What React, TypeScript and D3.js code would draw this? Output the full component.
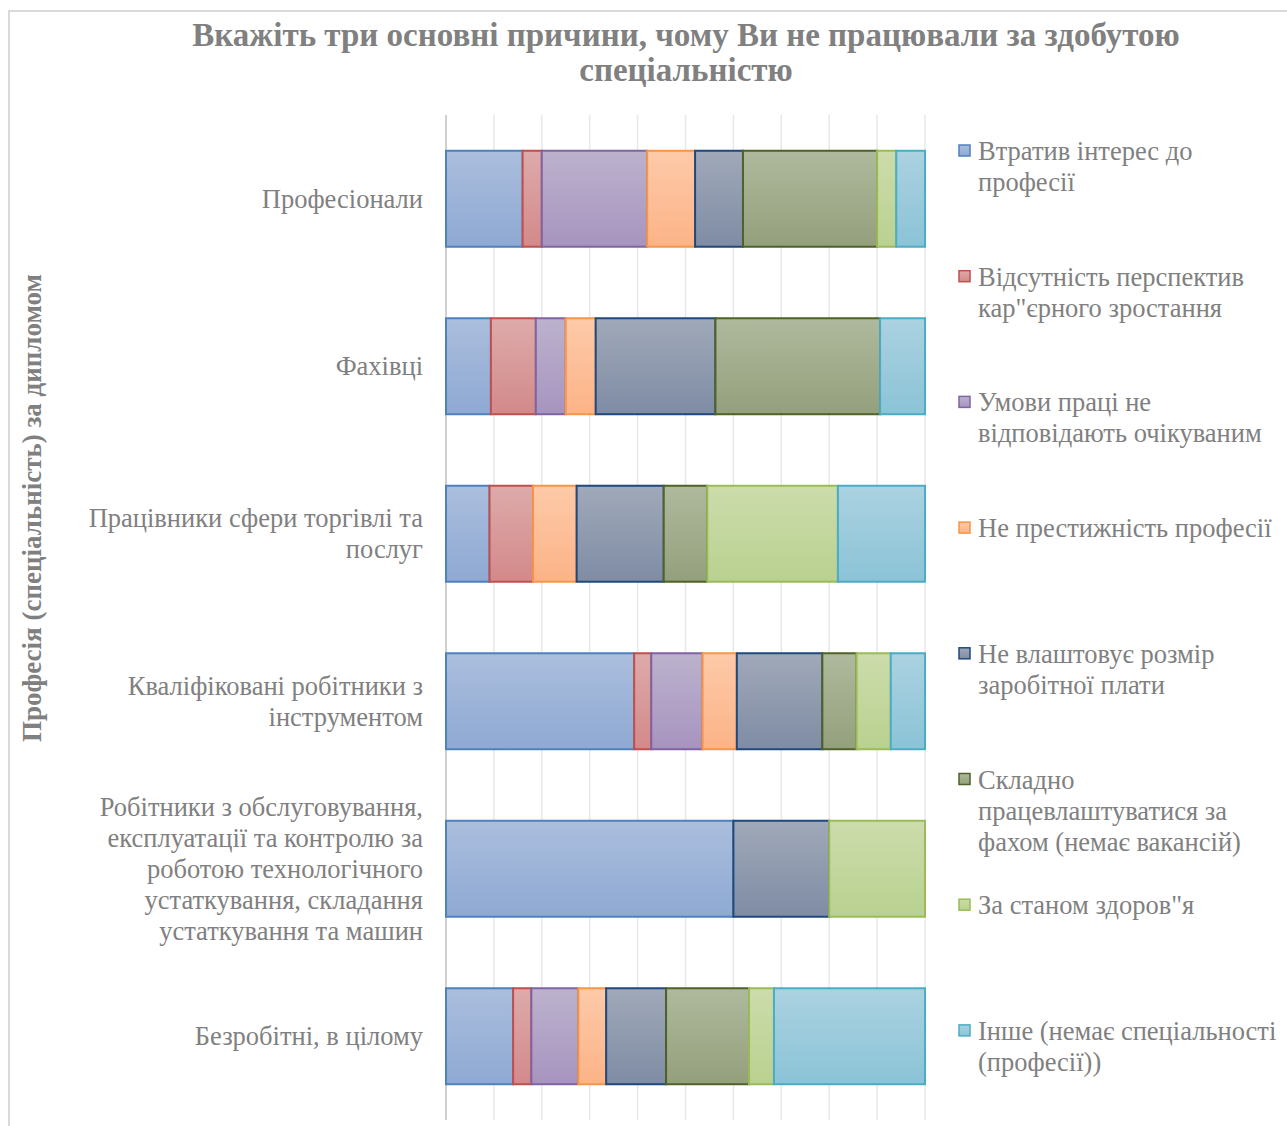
import React from "react";
import * as d3 from "d3";

const categories = [
  "Професіонали",
  "Фахівці",
  "Працівники сфери торгівлі та\nпослуг",
  "Кваліфіковані робітники з\nінструментом",
  "Робітники з обслуговування,\nексплуатації та контролю за\nроботою технологічного\nустаткування, складання\nустаткування та машин",
  "Безробітні, в цілому",
];

const seriesNames = [
  "Втратив інтерес до\nпрофесії",
  "Відсутність перспектив\nкар\"єрного зростання",
  "Умови праці не\nвідповідають очікуваним",
  "Не престижність професії",
  "Не влаштовує розмір\nзаробітної плати",
  "Складно\nпрацевлаштуватися за\nфахом (немає вакансій)",
  "За станом здоров\"я",
  "Інше (немає спеціальності\n(професії))",
];

const lostInterest = [8, 3, 1, 11, 3, 14];
const noCareer = [2, 3, 1, 1, 0, 3.8];
const badConditions = [11, 2, 0, 3, 0, 9.8];
const notPrestigious = [5, 2, 1, 2, 0, 5.8];
const lowSalary = [5, 8, 2, 5, 1, 12.5];
const noVacancies = [14, 11, 1, 2, 0, 17.3];
const health = [2, 0, 3, 2, 1, 5.2];
const other = [3, 3, 2, 2, 0, 31.5];

const seriesValues = [lostInterest, noCareer, badConditions, notPrestigious, lowSalary, noVacancies, health, other];

const xTicks = [0, 0.1, 0.2, 0.3, 0.4, 0.5, 0.6, 0.7, 0.8, 0.9, 1];

const strokes = ["#4f81bd", "#c0504d", "#8064a2", "#f79646", "#1f497d", "#4f6228", "#9bbb59", "#4bacc6"];
const gradTop = ["#abbedd", "#ddabaa", "#bcb2cd", "#fdcaa9", "#a0a9b9", "#afb99d", "#ccdcab", "#abd2e1"];
const gradBottom = ["#8ea9d3", "#d3898a", "#a794bf", "#fcb387", "#7f8ca4", "#94a07c", "#b9d190", "#8bc3d7"];

const FONT = "'Liberation Serif', 'Times New Roman', serif";
const GRAY = "#808080";

export default function App() {
  const W = 1287, H = 1126;
  const x = d3.scaleLinear().domain([0, 1]).range([446, 925]);
  const y = d3.scaleBand<number>().domain(d3.range(categories.length)).range([115, 1120]).paddingInner(0.427).paddingOuter(0.2135);

  const rows = categories.map((_, i) => {
    const r: any = { i };
    seriesValues.forEach((s, k) => (r["s" + k] = s[i]));
    return r;
  });
  const keys = seriesValues.map((_, k) => "s" + k);
  const stacked = d3.stack().keys(keys).offset(d3.stackOffsetExpand)(rows as any);

  const legendY0 = 151;
  const legendStep = 125.7;
  const lh = 31;
  const fs = 26.5;

  return (
    <svg width={W} height={H} style={{ position: "absolute", left: 0, top: 0 }} fontFamily={FONT}>
      <defs>
        {strokes.map((_, k) => (
          <linearGradient key={k} id={"g" + k} x1="0" y1="0" x2="0" y2="1">
            <stop offset="0" stopColor={gradTop[k]} />
            <stop offset="1" stopColor={gradBottom[k]} />
          </linearGradient>
        ))}
      </defs>
      <rect x={0} y={0} width={W} height={H} fill="#fff" />
      <rect x={9} y={11} width={W + 20} height={H + 20} fill="none" stroke="#d9d9d9" strokeWidth={2} />

      <text x={686} y={46} textAnchor="middle" fontSize={33} fontWeight="bold" fill={GRAY}>
        Вкажіть три основні причини, чому Ви не працювали за здобутою
      </text>
      <text x={686} y={81} textAnchor="middle" fontSize={33} fontWeight="bold" fill={GRAY}>
        спеціальністю
      </text>

      {xTicks.map((t, i) => (
        <line key={i} x1={x(t)} x2={x(t)} y1={115} y2={1120} stroke={i === 0 ? "#d0d0d0" : "#e8e8e8"} strokeWidth={i === 0 ? 2 : 1.5} />
      ))}

      {stacked.map((layer, k) =>
        layer.map((d, i) => {
          const w = x(d[1]) - x(d[0]);
          if (w <= 0.01) return null;
          return (
            <rect
              key={k + "-" + i}
              x={x(d[0])}
              y={y(i)!}
              width={w}
              height={y.bandwidth()}
              fill={`url(#g${k})`}
              stroke={strokes[k]}
              strokeWidth={2}
            />
          );
        })
      )}

      {categories.map((c, i) => {
        const lines = c.split("\n");
        const cy = y(i)! + y.bandwidth() / 2;
        const start = cy - ((lines.length - 1) * lh) / 2 + 9;
        return (
          <text key={i} textAnchor="end" fontSize={fs} fill={GRAY}>
            {lines.map((l, j) => (
              <tspan key={j} x={423} y={start + j * lh}>{l}</tspan>
            ))}
          </text>
        );
      })}

      <text transform="translate(41,508) rotate(-90)" textAnchor="middle" fontSize={27} fontWeight="bold" fill={GRAY}>
        Професія (спеціальність) за дипломом
      </text>

      {seriesNames.map((n, k) => {
        const ly = legendY0 + k * legendStep;
        const lines = n.split("\n");
        return (
          <g key={k}>
            <rect x={959} y={ly - 6} width={11} height={11} fill={`url(#g${k})`} stroke={strokes[k]} strokeWidth={1.5} />
            <text fontSize={fs} fill={GRAY}>
              {lines.map((l, j) => (
                <tspan key={j} x={978} y={ly + 9 + j * lh}>{l}</tspan>
              ))}
            </text>
          </g>
        );
      })}
    </svg>
  );
}
